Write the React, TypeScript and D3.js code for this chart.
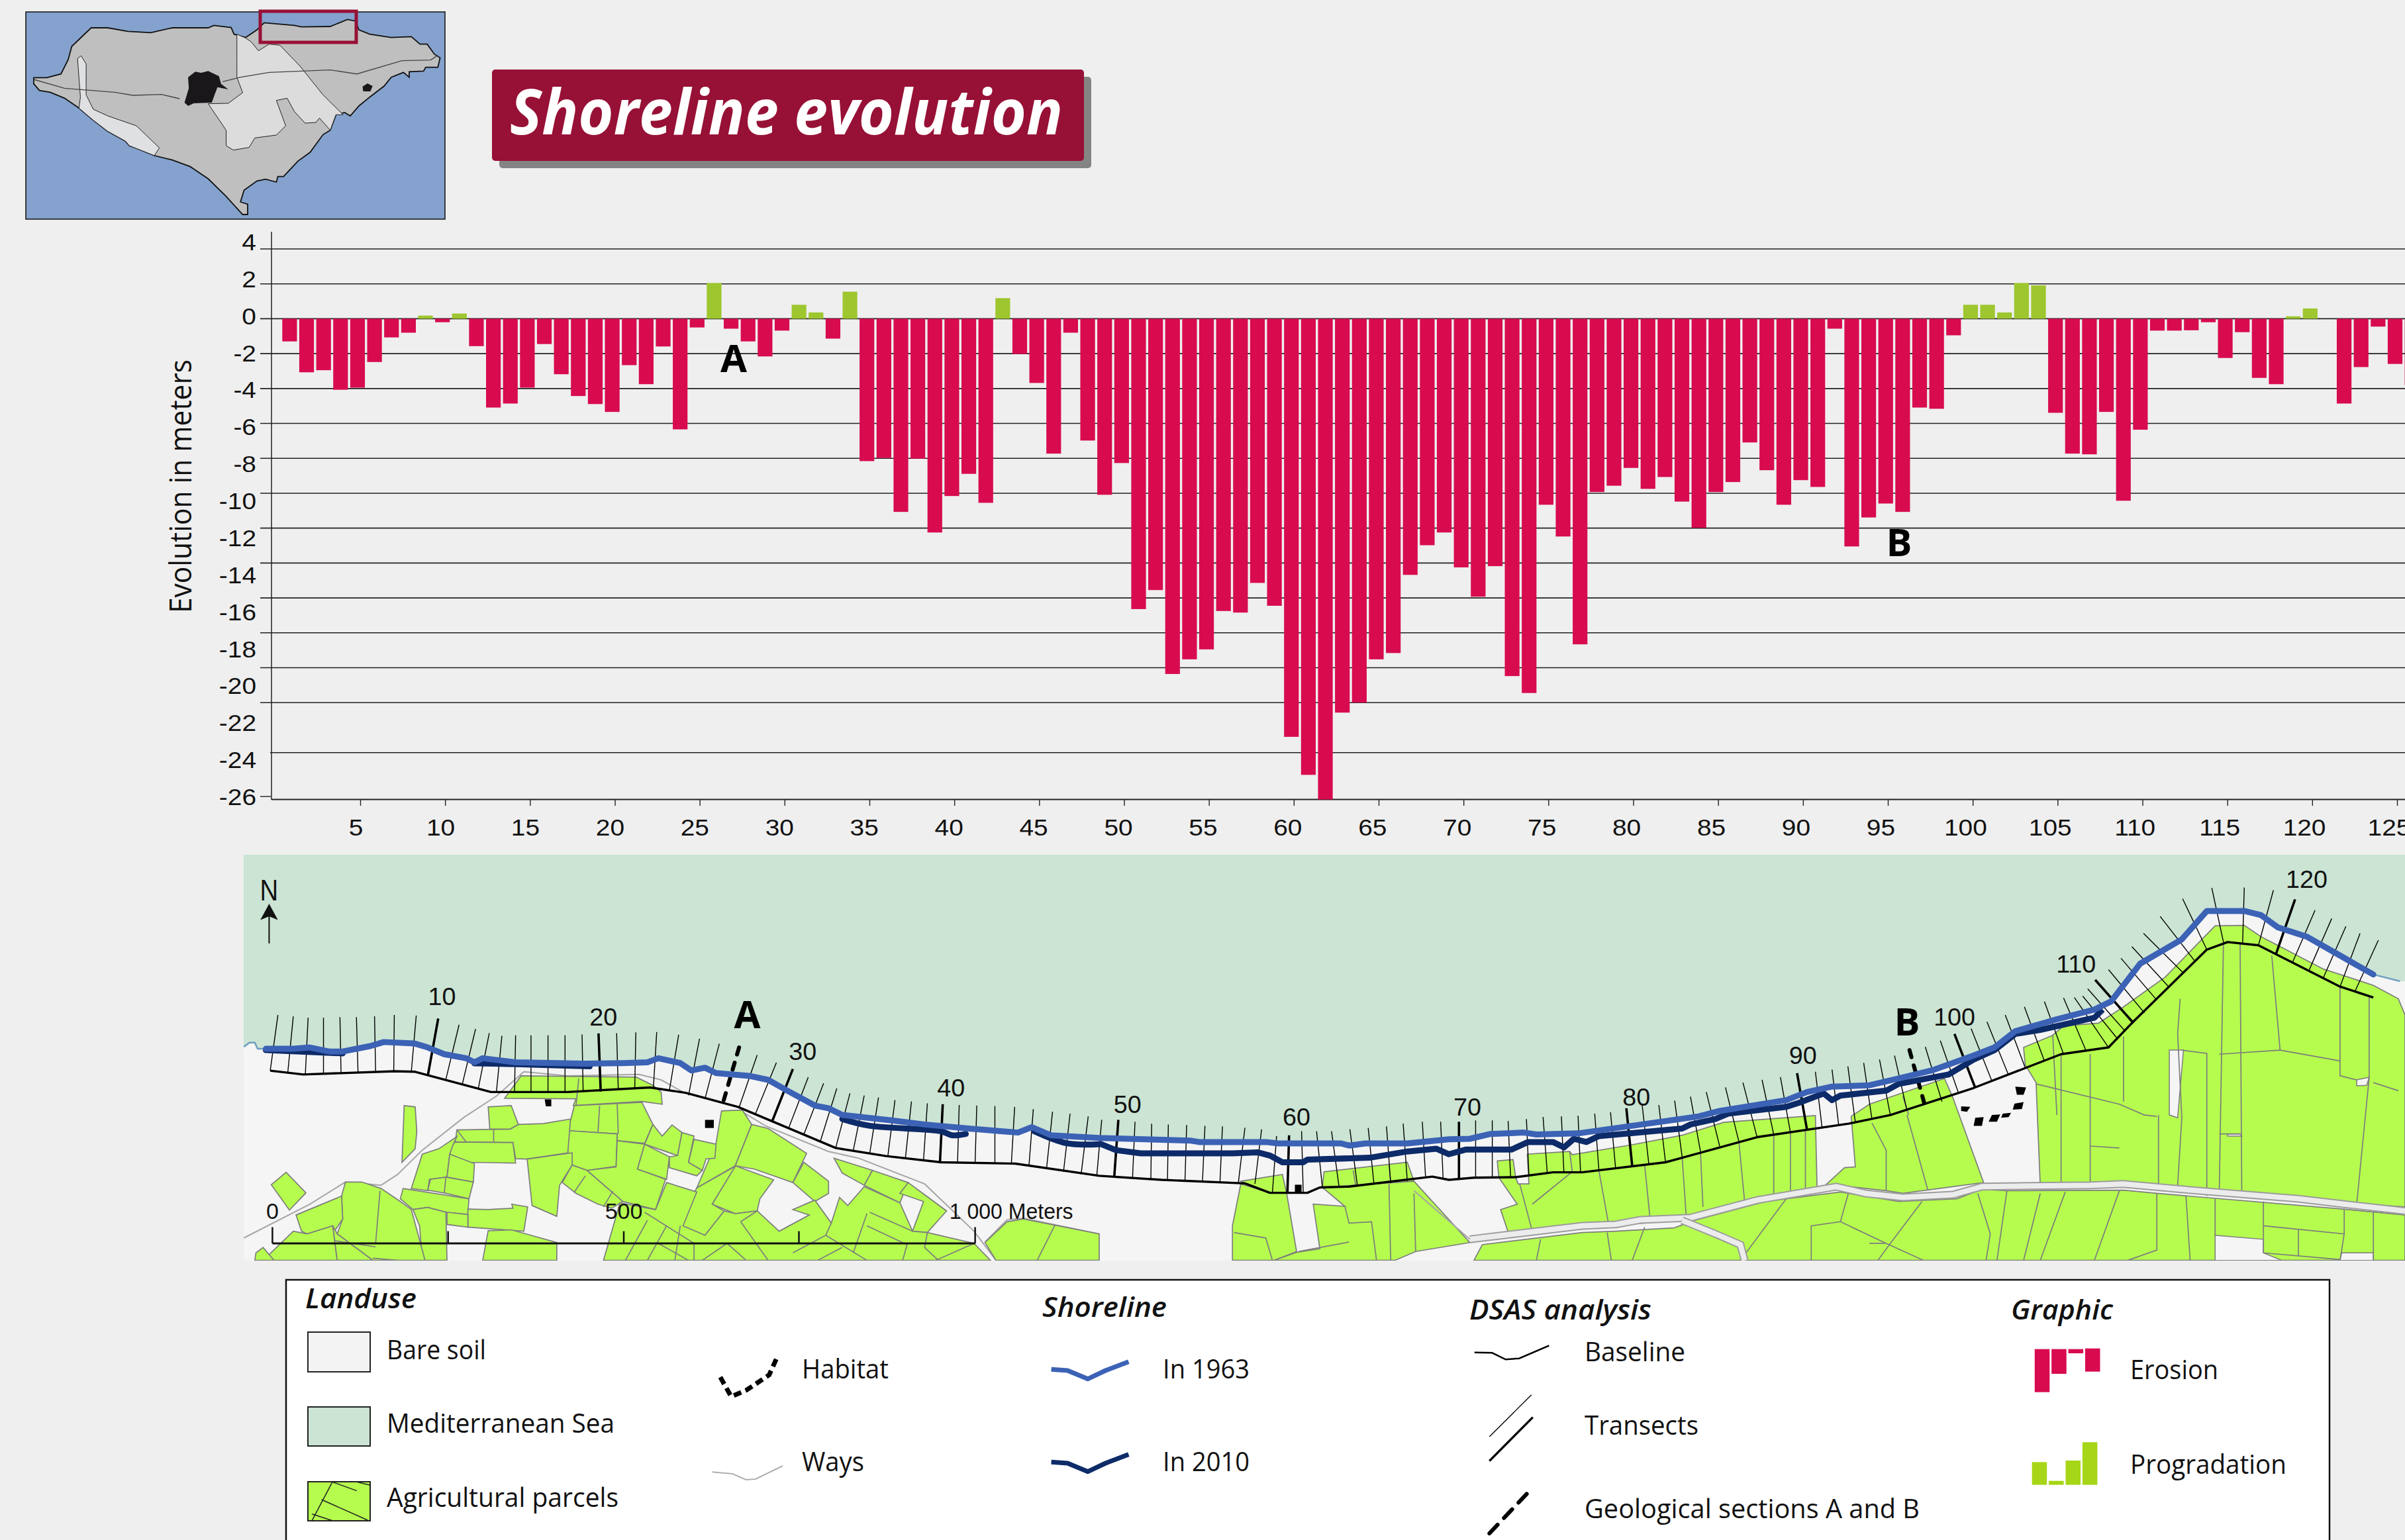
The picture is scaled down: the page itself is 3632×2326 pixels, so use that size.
import React from "react";
import * as d3 from "d3";

type P = [number, number];

// ---------- chart data ----------
const transectValues = [
  -1.3, -3.07, -2.95, -4.07, -3.95, -2.48, -1.07, -0.8, 0.18, -0.2, 0.3, -1.57, -5.09, -4.86, -3.95, -1.45, -3.18, -4.43, -4.89, -5.34,
  -2.66, -3.75, -1.59, -6.34, -0.5, 2.05, -0.57, -1.3, -2.16, -0.68, 0.8, 0.36, -1.14, 1.55, -8.16, -7.98, -11.07, -8.02, -12.25, -10.16,
  -8.89, -10.55, 1.18, -2.02, -3.68, -7.73, -0.8, -6.98, -10.09, -8.27, -16.64, -15.55, -20.36, -19.52, -18.95, -16.75, -16.84, -15.14, -16.45, -23.37,
  -24.95, -26, -22.4, -22, -19.52, -19.16, -14.68, -12.98, -12.25, -14.25, -15.93, -14.18, -20.48, -21.45, -10.66, -12.48, -18.66, -9.93, -9.57, -8.55,
  -9.75, -9.07, -10.48, -11.98, -9.93, -9.36, -7.09, -8.68, -10.66, -9.25, -9.64, -0.57, -13.05, -11.39, -10.59, -11.07, -5.09, -5.16, -0.95, 0.8,
  0.8, 0.36, 2.05, 1.91, -5.39, -7.73, -7.77, -5.34, -10.43, -6.36, -0.68, -0.68, -0.66, -0.2, -2.25, -0.77, -3.39, -3.75, 0.14, 0.59,
  0, -4.86, -2.77, -0.45, -2.59, -3.8,
];
const yTickLabels = [4, 2, 0, -2, -4, -6, -8, -10, -12, -14, -16, -18, -20, -22, -24, -26];
const xTickLabels = d3.range(5, 126, 5);
const gridDomain = [4, -22, -24, -26];

// ---------- legend mini bars ----------
const erosionLegend = [195, 112, 19, 105];
const progradationLegend = [103, 18, 110, 193];

// ---------- inset map (traced) ----------
const islandOutline: P[] = [[47,352],[65,352],[85,335],[95,270],[100,210],[127,126],[150,126],[178,142],[210,148],[240,126],[290,126],[298,115],[322,125],[326,155],[342,170],[358,135],[368,103],[410,115],[420,122],[460,120],[484,88],[495,95],[500,135],[515,155],[545,170],[573,166],[585,200],[595,200],[605,245],[613,262],[610,305],[593,305],[590,322],[570,325],[570,350],[562,328],[545,350],[535,390],[515,440],[500,480],[488,525],[480,510],[468,520],[460,590],[450,610],[432,690],[415,730],[395,800],[387,800],[385,825],[370,812],[358,820],[340,862],[335,915],[345,925],[345,972],[338,972],[315,890],[290,810],[265,755],[240,725],[215,705],[190,672],[180,660],[175,640],[150,595],[130,545],[110,490],[90,445],[70,418],[55,410],[47,380]];
const islandCentre: P[] = [[330,155],[342,172],[350,190],[360,230],[375,200],[390,205],[418,300],[450,430],[478,520],[468,520],[460,590],[445,535],[440,555],[425,558],[410,505],[400,445],[385,455],[398,570],[385,612],[355,625],[347,668],[325,680],[315,660],[315,590],[290,470],[318,468],[338,420],[330,350],[330,260]];
const islandWest: P[] = [[110,490],[130,545],[150,595],[175,640],[180,660],[215,705],[222,670],[190,570],[150,525],[130,495],[120,430],[120,290],[113,253],[108,265],[112,440]];
const islandCity: P[] = [[262,350],[272,325],[280,330],[290,322],[305,345],[308,380],[318,405],[303,395],[300,420],[295,465],[270,468],[262,480],[257,465],[263,400]];
const islandTown: P[] = [[512,378],[519,390],[516,414],[506,414],[505,392]];
const islandRoads: P[][] = [
  [[47,360],[90,400],[160,418],[185,432],[225,428],[250,447]],
  [[310,370],[335,350],[375,328],[460,317],[497,335],[560,275],[600,272],[610,250]],
];

// ---------- coastal map (traced, left crop and right crop) ----------
const tailLeft: P[] = [[10,738],[20,722],[30,722],[35,745],[50,745]];
const shore1963L: P[] = [[50,745],[100,745],[130,740],[165,755],[190,755],[240,735],[265,720],[320,725],[345,740],[375,765],[415,780],[430,795],[445,780],[505,795],[630,800],[700,798],[745,795],[765,780],[805,798],[825,825],[850,815],[870,835],[930,845],[965,860],[1000,900],[1050,955],[1075,965],[1100,990],[1190,1010],[1250,1025],[1330,1040],[1420,1055],[1445,1035],[1480,1065],[1568,1075]];
const shore1963R: P[] = [[0,1075],[110,1085],[120,1090],[200,1090],[215,1095],[290,1095],[300,1103],[320,1095],[370,1095],[420,1080],[445,1078],[470,1060],[510,1055],[525,1062],[575,1058],[640,1030],[720,995],[745,975],[825,935],[850,905],[880,885],[925,880],[960,855],[1000,825],[1050,770],[1075,740],[1100,680],[1145,640],[1195,600],[1215,570],[1250,430],[1300,340],[1330,235],[1375,235],[1395,250],[1415,295],[1450,330],[1490,400],[1530,470]];
const tailRight: P[] = [[1530,470],[1562,495]];
const shore2010L: P[][] = [
  [[50,750],[190,762]],
  [[430,799],[505,802],[640,810]],
  [[1100,1005],[1150,1030],[1280,1050],[1300,1065],[1325,1060]],
  [[1450,1050],[1510,1095],[1568,1098]],
];
const shore2010R: P[] = [[0,1095],[20,1120],[50,1132],[160,1132],[190,1128],[205,1140],[220,1165],[245,1165],[250,1155],[325,1148],[370,1125],[405,1115],[420,1135],[440,1118],[495,1118],[515,1090],[545,1090],[558,1110],[570,1078],[585,1090],[600,1068],[700,1040],[710,1025],[740,1005],[755,985],[825,960],[840,945],[870,910],[880,935],[890,918],[945,900],[960,875],[1020,840],[1050,785],[1075,750],[1100,690],[1130,675],[1195,630],[1205,600]];
const baselineL: P[] = [[58,826],[118,840],[285,828],[322,830],[460,905],[600,905],[750,888],[815,908],[910,960],[1088,1112],[1180,1142],[1280,1165],[1415,1170],[1568,1215]];
const baselineR: P[] = [[0,1215],[75,1230],[175,1243],[205,1278],[250,1278],[265,1258],[300,1255],[400,1218],[420,1230],[450,1222],[500,1220],[545,1202],[580,1202],[680,1165],[790,1072],[900,1022],[950,990],[1050,890],[1155,765],[1212,740],[1240,650],[1330,378],[1355,350],[1392,362],[1490,515],[1530,555]];

const transectTopL: P[] = [[72,620],[100,625],[127,630],[155,630],[185,628],[215,628],[248,625],[284,620],[324,622],[364,633],[402,656],[432,672],[457,687],[480,697],[505,695],[533,695],[564,695],[595,695],[626,692],[656,688],[689,687],[724,684],[762,683],[802,693],[840,708],[876,726],[912,740],[945,768],[980,796],[1010,820],[1038,850],[1066,873],[1090,892],[1114,910],[1140,918],[1166,925],[1196,935],[1226,940],[1255,947],[1283,950],[1313,953],[1345,955],[1378,957],[1414,960],[1448,968],[1483,978],[1515,985],[1548,995]];
const transectFootL: P[] = [[58,826],[90,833],[122,838],[155,838],[187,836],[218,835],[250,833],[283,830],[315,830],[345,845],[378,858],[408,875],[437,892],[470,905],[503,905],[533,905],[564,905],[595,905],[628,904],[660,903],[692,897],[722,893],[756,888],[785,900],[820,917],[850,930],[882,950],[912,962],[942,985],[972,1015],[1002,1040],[1030,1062],[1060,1088],[1088,1112],[1120,1122],[1150,1132],[1183,1142],[1215,1150],[1248,1158],[1278,1165],[1310,1165],[1342,1165],[1378,1167],[1408,1170],[1440,1180],[1472,1190],[1503,1200],[1535,1210]];
const transectTopR: P[] = [[3,1008],[23,1008],[43,1015],[63,1022],[83,1025],[105,1027],[127,1030],[148,1032],[175,1037],[195,1043],[213,1068],[228,1065],[243,1050],[261,1050],[279,1050],[301,1043],[323,1038],[345,1032],[365,1022],[388,1015],[410,1015],[432,1015],[452,1010],[472,1010],[491,1012],[513,1005],[533,997],[555,995],[575,993],[595,985],[614,980],[633,965],[652,953],[672,953],[691,937],[710,922],[729,905],[752,888],[773,870],[796,860],[818,850],[838,835],[860,830],[880,822],[899,810],[918,797],[937,785],[955,770],[973,750],[992,738],[1010,715],[1027,690],[1047,670],[1066,645],[1088,620],[1111,590],[1135,570],[1158,557],[1171,555],[1181,550],[1187,523],[1196,490],[1212,452],[1227,410],[1240,367],[1254,318],[1274,255],[1301,190],[1336,150],[1375,148],[1410,158],[1436,192],[1460,232],[1480,263],[1497,292],[1514,318],[1536,343]];
const transectFootR: P[] = [[-3,1218],[18,1222],[40,1226],[62,1230],[82,1233],[103,1236],[124,1238],[145,1240],[167,1243],[187,1245],[208,1277],[226,1278],[245,1278],[268,1258],[288,1256],[310,1250],[330,1247],[350,1242],[370,1235],[392,1225],[413,1228],[432,1230],[452,1222],[472,1222],[494,1220],[516,1212],[538,1204],[558,1202],[578,1202],[600,1193],[620,1185],[640,1178],[660,1172],[680,1164],[700,1145],[722,1125],[745,1105],[768,1087],[790,1072],[810,1063],[830,1054],[850,1046],[868,1036],[888,1028],[908,1018],[928,1007],[950,990],[970,973],[992,960],[1012,940],[1032,910],[1052,890],[1072,865],[1092,843],[1112,815],[1135,790],[1158,765],[1185,752],[1212,740],[1222,705],[1232,680],[1242,650],[1255,612],[1270,565],[1285,518],[1302,465],[1315,418],[1330,378],[1350,350],[1373,355],[1392,362],[1413,395],[1433,425],[1453,453],[1470,482],[1490,515],[1508,532]];

const parcelsL: P[][] = [
  [[515,845],[725,850],[755,880],[770,905],[772,950],[735,940],[610,955],[615,930],[485,928]],
  [[612,955],[735,943],[755,1025],[740,1095],[690,1085],[690,1060],[600,1048]],
  [[600,1048],[690,1060],[688,1180],[635,1195],[600,1170]],
  [[690,1085],[740,1098],[727,1190],[778,1228],[760,1340],[700,1310],[635,1195],[688,1182]],
  [[398,1045],[495,1042],[510,1025],[555,1022],[605,1005],[600,1130],[525,1153],[505,1152],[500,1092],[395,1090]],
  [[455,960],[497,955],[510,1025],[495,1042],[458,1042]],
  [[395,1090],[500,1092],[505,1168],[420,1165],[385,1135],[388,1105]],
  [[526,1153],[608,1130],[608,1175],[585,1250],[580,1365],[535,1325]],
  [[398,1070],[390,1105],[385,1135],[380,1220],[348,1228],[345,1270],[315,1262],[335,1135],[365,1115]],
  [[385,1135],[430,1170],[428,1238],[380,1220]],
  [[350,1228],[378,1220],[428,1238],[420,1300],[378,1280],[345,1268]],
  [[300,1262],[420,1300],[418,1358],[378,1350],[345,1332],[318,1340],[295,1300]],
  [[418,1338],[455,1340],[500,1335],[498,1320],[527,1330],[520,1420],[418,1405]],
  [[380,1350],[418,1358],[418,1405],[380,1395]],
  [[318,1340],[345,1332],[378,1350],[380,1528],[335,1528],[330,1400]],
  [[195,1238],[225,1238],[260,1262],[295,1310],[315,1340],[340,1528],[245,1528],[180,1430],[190,1375],[188,1290]],
  [[188,1290],[190,1375],[175,1420],[125,1430],[115,1420],[105,1360]],
  [[125,1430],[172,1400],[180,1528],[45,1528],[100,1420]],
  [[172,1400],[180,1430],[245,1528],[180,1528]],
  [[455,1418],[497,1415],[580,1462],[580,1528],[445,1528]],
  [[32,1500],[45,1480],[65,1528],[30,1528]],
  [[302,955],[322,960],[325,1050],[322,1115],[298,1165]],
  [[60,1248],[87,1202],[123,1278],[93,1342]],
  [[880,975],[918,972],[935,1025],[905,1178],[835,1260],[870,1095]],
  [[935,1025],[965,1040],[1035,1132],[1010,1240],[940,1190],[905,1178]],
  [[905,1178],[975,1230],[950,1300],[945,1345],[905,1355],[863,1320]],
  [[1010,1240],[1030,1165],[1075,1235],[1075,1280],[1050,1310]],
  [[835,1260],[905,1180],[863,1320],[885,1345],[850,1435],[805,1400],[825,1295]],
  [[755,1025],[772,1068],[790,1027],[808,1055],[800,1140],[740,1098]],
  [[808,1055],[830,1068],[820,1165],[845,1195],[835,1215],[785,1185],[785,1145],[800,1140]],
  [[830,1080],[870,1098],[868,1150],[852,1152],[845,1195],[820,1165]],
  [[740,1098],[785,1145],[780,1228],[727,1190]],
  [[590,1240],[608,1175],[635,1195],[700,1310],[680,1335],[655,1320],[615,1280]],
  [[1085,1150],[1155,1195],[1140,1250],[1100,1205]],
  [[1155,1195],[1220,1240],[1205,1315],[1140,1250]],
  [[1220,1240],[1250,1285],[1290,1345],[1255,1425],[1228,1420],[1248,1310],[1205,1280]],
  [[695,1315],[760,1340],[780,1240],[835,1275],[810,1400],[850,1435],[885,1345],[905,1355],[945,1345],[985,1420],[1040,1360],[1010,1340],[1050,1305],[1080,1390],[1095,1295],[1110,1325],[1140,1255],[1205,1315],[1228,1420],[1255,1425],[1340,1465],[1370,1528],[665,1528]],
  [[1360,1462],[1400,1385],[1430,1375],[1568,1430],[1568,1528],[1380,1528]],
];
const dividersL: P[][] = [
  [[620,855],[615,955]],[[658,955],[655,1055]],[[690,950],[692,1060]],[[465,1043],[465,1090]],[[398,1045],[415,1090]],
  [[258,1270],[250,1465]],[[175,1455],[250,1478]],[[245,1520],[290,1528]],[[378,1220],[375,1280]],
  [[740,1350],[830,1465],[830,1528]],[[765,1465],[820,1528]],[[745,1380],[705,1528]],[[780,1400],[745,1528]],[[805,1400],[795,1528]],
  [[890,1465],[845,1528]],[[890,1465],[925,1528]],[[1010,1500],[1070,1435],[1080,1390]],[[1070,1435],[1145,1528]],[[1100,1480],[1055,1528]],
  [[1145,1355],[1120,1500]],[[1145,1400],[1218,1470],[1210,1528]],[[1150,1350],[1228,1420]],[[915,1385],[945,1345]],[[915,1385],[965,1528]],
  [[1255,1425],[1250,1480],[1275,1528]],[[1340,1465],[1270,1528]],[[1488,1395],[1455,1528]],[[632,1215],[612,1275]],[[682,1272],[665,1330]],
];
const parcelsR: P[][] = [
  [[170,1235],[220,1210],[225,1278],[205,1278],[180,1248]],
  [[170,1245],[205,1278],[225,1278],[237,1495],[210,1528],[160,1528],[160,1400]],
  [[270,1200],[370,1165],[378,1235],[300,1255],[268,1258]],
  [[268,1258],[378,1235],[445,1462],[380,1495],[355,1528],[210,1528],[237,1498],[265,1485],[257,1320],[295,1328]],
  [[478,1160],[497,1155],[500,1220],[480,1222]],
  [[480,1222],[500,1220],[503,1245],[516,1245],[514,1135],[565,1125],[568,1137],[640,1100],[700,1065],[750,1017],[860,992],[862,1262],[790,1310],[705,1375],[620,1400],[580,1400],[492,1432],[482,1340],[502,1320]],
  [[903,995],[925,950],[1015,855],[1025,925],[1062,1240],[965,1280],[945,1270],[885,1250],[872,1250],[895,1185],[908,1182]],
  [[1112,805],[1110,740],[1145,695],[1158,660],[1200,650],[1230,590],[1280,480],[1340,290],[1375,288],[1395,330],[1420,370],[1470,450],[1530,510],[1560,560],[1568,620],[1568,1330],[1495,1315],[1340,1280],[1230,1245],[1130,1250],[1125,870]],
  [[450,1528],[460,1470],[580,1425],[620,1420],[690,1408],[715,1380],[800,1310],[890,1275],[960,1310],[1030,1300],[1060,1265],[1090,1270],[1230,1268],[1270,1280],[1500,1340],[1568,1360],[1568,1528]],
];
const holesR: P[][] = [
  [[1285,750],[1302,750],[1295,1000],[1285,990]],
  [[1510,860],[1525,850],[1522,880],[1510,882]],
  [[1355,1060],[1370,1060],[1372,1068],[1355,1068]],
  [[1340,1435],[1398,1450],[1398,1500],[1420,1528],[1340,1528]],
  [[1490,1528],[1530,1528],[1530,1500],[1492,1500]],
];
const dividersR: P[][] = [
  [[162,1425],[200,1445],[208,1528]],[[295,1328],[300,1390],[327,1385],[333,1528]],[[348,1245],[350,1528]],[[300,1460],[240,1495]],[[378,1280],[380,1495]],
  [[305,1195],[308,1250]],[[348,1175],[350,1240]],[[505,1245],[520,1420]],
  [[565,1125],[568,1200],[520,1320]],[[600,1195],[612,1400]],[[655,1175],[662,1390]],[[700,1145],[705,1370]],[[722,1125],[725,1330]],[[768,1085],[775,1310]],[[810,1065],[810,1290]],[[830,1050],[830,1275]],[[848,1045],[848,1265]],
  [[965,920],[972,990]],[[928,1020],[945,1120],[945,1270]],[[970,990],[995,1268]],
  [[1145,695],[1150,990]],[[1155,765],[1155,1240]],[[1125,875],[1225,950],[1255,990],[1270,995]],[[1190,765],[1190,1240]],[[1230,700],[1230,940]],[[1272,990],[1272,1245]],[[1298,560],[1295,690],[1300,1000],[1295,1250]],
  [[1350,350],[1345,1270]],[[1370,350],[1372,1280]],[[1408,400],[1418,750]],[[1345,765],[1418,750],[1490,790]],[[1490,515],[1490,845],[1510,860]],[[1525,550],[1525,850],[1510,1320]],[[1530,870],[1560,900]],[[1300,750],[1330,762],[1330,1290]],[[1345,1060],[1370,1060]],[[1190,1105],[1225,1112]],
  [[610,1425],[615,1528]],[[530,1450],[525,1528]],[[655,1405],[640,1528]],[[825,1300],[770,1528]],[[900,1275],[890,1385],[855,1400],[855,1528]],[[890,1385],[945,1465],[925,1465]],[[945,1465],[990,1528]],[[988,1310],[950,1465],[935,1528]],[[1055,1280],[1070,1430],[1065,1528]],[[1090,1270],[1078,1528]],[[1130,1280],[1110,1528]],[[1160,1275],[1130,1528]],[[1225,1270],[1195,1528]],[[1270,1280],[1270,1490],[1235,1528]],[[1305,1290],[1310,1528]],[[1340,1300],[1340,1435]],[[1398,1310],[1398,1400],[1495,1430],[1490,1528]],[[1398,1400],[1398,1500],[1490,1525]],[[1440,1415],[1440,1510]],[[1495,1340],[1495,1430]],[[1530,1350],[1530,1528]],
];
const mainRoadR: P[] = [[445,1450],[580,1400],[620,1395],[650,1378],[710,1370],[790,1305],[885,1255],[920,1280],[965,1295],[1025,1285],[1060,1255],[1190,1250],[1230,1245],[1300,1265],[1440,1300],[1495,1320],[1568,1345]];
const branchRoadR: P[] = [[700,1380],[740,1430],[770,1470],[775,1528]];
const sideRoadR: P[] = [[378,1270],[445,1450]];
const thinRoadsL: P[][] = [
  [[10,1445],[130,1320],[195,1238],[260,1250],[290,1210],[335,1120],[410,1000],[470,920],[520,830],[600,845],[730,840],[770,860],[810,905]],
  [[915,975],[960,1030],[1075,1125],[1130,1150],[1250,1245],[1340,1420],[1380,1528]],
  [[1360,1460],[1400,1378],[1430,1372],[1568,1430]],
];
const habitatL: P[][] = [[[558,932],[570,932],[570,958],[560,958]],[[850,1008],[866,1008],[866,1038],[850,1038]]];
const habitatR: P[][] = [[[235,1248],[243,1248],[243,1278],[235,1278]],[[1100,885],[1113,888],[1110,915],[1102,915]],[[1035,958],[1046,960],[1042,978],[1035,975]],[[1052,1000],[1062,998],[1060,1030],[1050,1030]],[[1072,990],[1082,988],[1078,1015],[1068,1015]],[[1085,985],[1095,982],[1092,998],[1083,1000]],[[1099,948],[1110,942],[1108,968],[1097,970]]];

const mapLabelsL: [string, number, number][] = [["10",371,583],["20",665,658],["30",1028,786],["40",1298,920]];
const mapLabelsR: [string, number, number][] = [["50",34,982],["60",237,1030],["70",442,993],["80",645,955],["90",845,800],["100",1027,660],["110",1173,462],["120",1450,150]];
const scaleStops = [62, 382, 702, 1021, 1342];

// legend strokes (legend crop coordinates)
const legendHabitat: P[] = [[326,480],[334,568],[345,540],[362,470],[368,388]];
const legendWays: P[] = [[320,910],[335,918],[345,945],[352,942],[372,882]];
const legendShore: P[] = [[570,445],[582,450],[597,488],[610,450],[627,410]];
const legendBaseline: P[] = [[882,368],[895,370],[905,400],[915,395],[937,337]];
const legendTexts: [string, number, number, number][] = [
  ["Bare soil",584,2053,150],["Mediterranean Sea",584,2164,344],["Agricultural parcels",584,2276,350],
  ["Habitat",1211,2082,131],["Ways",1211,2222,94],["In 1963",1756,2082,131],["In 2010",1756,2222,131],
  ["Baseline",2393,2056,152],["Transects",2393,2167,172],["Geological sections A and B",2393,2293,506],
  ["Erosion",3217,2083,133],["Progradation",3217,2226,236],
];
const legendHeads: [string, number, number, number][] = [
  ["Landuse",461,1976,168],["Shoreline",1574,1989,188],["DSAS analysis",2219,1993,275],["Graphic",3037,1993,154],
];

// ---------- colours ----------
const RED = "#d80b4f";
const GREEN = "#9ec62e";
const BG = "#efefef";
const CRIMSON = "#971035";
const PARCEL = "#b5fc4e";
const PARCEL_LINE = "#7d7d7d";
const SEA = "#cbe4d4";
const SOIL = "#f5f5f5";

const SANS = "'Liberation Sans', Arial, sans-serif";
const OPEN = "'Open Sans', sans-serif";

// ---------- scales ----------
const xBar = d3.scaleLinear().domain([1, 125]).range([437.4, 3617]);
const xTick = d3.scaleLinear().domain([5, 125]).range([544.5, 3620.5]);
const xLabel = d3.scaleLinear().domain([5, 125]).range([537.6, 3608]);
const yGrid = d3.scaleLinear().domain(gridDomain).range([376, 1061.2, 1136.7, 1207.5]);
const yLabel = d3.scaleLinear().domain([4, -26]).range([365, 1203]);

const insetX = d3.scaleLinear().domain([0, 1700]).range([0, 1700 / 0.9224]);
const insetY = d3.scaleLinear().domain([0, 1020]).range([0, 340]);
const lx = d3.scaleLinear().domain([0, 1568]).range([360, 1660]);
const ly = d3.scaleLinear().domain([0, 1568]).range([1280, 1920]);
const rx = d3.scaleLinear().domain([0, 1568]).range([1660, 3632]);
const gx = d3.scaleLinear().domain([0, 1568]).range([420, 3632]);
const gy = d3.scaleLinear().domain([0, 1218]).range([1920, 2326]);

const toL = (p: P): P => [lx(p[0]), ly(p[1])];
const toR = (p: P): P => [rx(p[0]), ly(p[1])];
const toI = (p: P): P => [insetX(p[0]), insetY(p[1])];
const toG = (p: P): P => [gx(p[0]), gy(p[1])];
const line = d3.line<P>();
const smooth = d3.line<P>().curve(d3.curveCatmullRom.alpha(0.5));

const seaShore: P[] = [...tailLeft.map(toL), ...shore1963L.map(toL), ...shore1963R.map(toR), ...tailRight.map(toR)];
const seaPolygon: P[] = [[368, 1291], [3632, 1291], [3632, ly(495)], ...seaShore.slice().reverse(), [368, ly(738)]];
const baselinePts: P[] = [...baselineL.map(toL), ...baselineR.map(toR)];

const transects = [
  ...transectTopL.map((t, i) => [toL(t), toL(transectFootL[i])]),
  ...transectTopR.map((t, i) => [toR(t), toR(transectFootR[i])]),
] as [P, P][];

function Stretched({ x, y, sx = 1.08, size, anchor = "middle", fill = "#111", weight = 400, family = SANS, children }: any) {
  return (
    <text transform={`translate(${x},${y}) scale(${sx},1)`} fontFamily={family} fontSize={size} fontWeight={weight} textAnchor={anchor} fill={fill}>
      {children}
    </text>
  );
}

export default function App() {
  return (
    <svg width={3632} height={2326} viewBox="0 0 3632 2326" style={{ position: "absolute", left: 0, top: 0, display: "block", background: BG }}>
      <defs>
        <clipPath id="mapClip"><rect x={368} y={1291} width={3264} height={613} /></clipPath>
      </defs>
      <rect width={3632} height={2326} fill={BG} />

      {/* inset */}
      <rect x={39} y={18} width={633} height={313} fill="#84a2cd" stroke="#111" strokeWidth={1.5} />
      <path d={line(islandOutline.map(toI)) + "Z"} fill="#bfbfbf" stroke="#111" strokeWidth={1.8} />
      <path d={line(islandCentre.map(toI)) + "Z"} fill="#dcdcdc" stroke="#222" strokeWidth={1} />
      <path d={line(islandWest.map(toI)) + "Z"} fill="#dfe0e2" stroke="#222" strokeWidth={1} />
      {islandRoads.map((r, i) => <path key={i} d={line(r.map(toI))!} fill="none" stroke="#444" strokeWidth={1.4} />)}
      <path d={line(islandCity.map(toI)) + "Z"} fill="#19171a" />
      <path d={line(islandTown.map(toI)) + "Z"} fill="#19171a" />
      <rect x={393} y={17} width={145} height={47} fill="none" stroke={CRIMSON} strokeWidth={5} />

      {/* title */}
      <rect x={754} y={116} width={894} height={138} rx={5} fill="#848484" />
      <rect x={743} y={105} width={894} height={138} rx={5} fill={CRIMSON} />
      <text x={770} y={203} fontFamily={OPEN} fontSize={95} fontWeight={700} fontStyle="italic" fill="#fff" textLength={835} lengthAdjust="spacingAndGlyphs">Shoreline evolution</text>

      {/* chart grid */}
      {gridDomain.length > 0 && yTickLabels.filter((v) => v >= -24).map((v) => (
        <line key={v} x1={v === -24 ? 408 : 393} x2={3632} y1={yGrid(v)} y2={yGrid(v)} stroke="#222" strokeWidth={1.6} />
      ))}
      <line x1={393} x2={409} y1={1203} y2={1203} stroke="#222" strokeWidth={1.4} />
      <line x1={410} x2={410} y1={350} y2={1208} stroke="#222" strokeWidth={1.5} />
      <line x1={410} x2={3632} y1={1207.5} y2={1207.5} stroke="#222" strokeWidth={1.8} />
      {xTickLabels.map((t) => (
        <line key={t} x1={xTick(t)} x2={xTick(t)} y1={1207.5} y2={1217} stroke="#222" strokeWidth={1.4} />
      ))}

      {/* bars */}
      {transectValues.map((v, i) => {
        if (v === 0) return null;
        const x = xBar(i + 1);
        return (
          <rect key={i} x={x - 11.1} width={22.2} y={Math.min(yGrid(v), yGrid(0))} height={Math.abs(yGrid(v) - yGrid(0))} fill={v > 0 ? GREEN : RED} />
        );
      })}

      {/* axis labels */}
      {yTickLabels.map((v) => (
        <Stretched key={v} x={387} y={yLabel(v) + 13} size={36} anchor="end">{v}</Stretched>
      ))}
      {xTickLabels.map((t) => (
        <Stretched key={t} x={xLabel(t)} y={1262} size={36}>{t}</Stretched>
      ))}
      <text transform="translate(289,926) rotate(-90)" fontFamily={OPEN} fontSize={46} fill="#111" textLength={383} lengthAdjust="spacingAndGlyphs">Evolution in meters</text>
      <text x={1108} y={562} fontFamily={OPEN} fontSize={58} fontWeight={700} fill="#000" textAnchor="middle">A</text>
      <text x={2868} y={840} fontFamily={OPEN} fontSize={58} fontWeight={700} fill="#000" textAnchor="middle">B</text>

      {/* coastal map */}
      <g clipPath="url(#mapClip)">
        <rect x={368} y={1291} width={3264} height={613} fill={SOIL} />
        <path d={line(seaPolygon) + "Z"} fill={SEA} />
        {thinRoadsL.map((r, i) => <path key={i} d={line(r.map(toL))!} fill="none" stroke="#a6a6a6" strokeWidth={2} />)}
        {parcelsL.map((p, i) => <path key={i} d={line(p.map(toL)) + "Z"} fill={PARCEL} stroke={PARCEL_LINE} strokeWidth={1.7} />)}
        {dividersL.map((p, i) => <path key={i} d={line(p.map(toL))!} fill="none" stroke={PARCEL_LINE} strokeWidth={1.7} />)}
        {parcelsR.map((p, i) => <path key={i} d={line(p.map(toR)) + "Z"} fill={PARCEL} stroke={PARCEL_LINE} strokeWidth={1.7} />)}
        {holesR.map((p, i) => <path key={i} d={line(p.map(toR)) + "Z"} fill={SOIL} stroke={PARCEL_LINE} strokeWidth={1.5} />)}
        {dividersR.map((p, i) => <path key={i} d={line(p.map(toR))!} fill="none" stroke={PARCEL_LINE} strokeWidth={1.7} />)}
        {[mainRoadR, branchRoadR].map((r, i) => (
          <g key={i}>
            <path d={line(r.map(toR))!} fill="none" stroke="#9c9c9c" strokeWidth={12} />
            <path d={line(r.map(toR))!} fill="none" stroke="#ececec" strokeWidth={8} />
          </g>
        ))}
        <path d={line(sideRoadR.map(toR))!} fill="none" stroke="#a6a6a6" strokeWidth={2} />
        {habitatL.map((p, i) => <path key={i} d={line(p.map(toL)) + "Z"} fill="#000" />)}
        {habitatR.map((p, i) => <path key={i} d={line(p.map(toR)) + "Z"} fill="#000" />)}

        {/* transects */}
        {transects.map(([a, b], i) => {
          const n = i + 1;
          if (n === 27 || n === 97) {
            return <line key={i} x1={a[0]} y1={a[1]} x2={b[0]} y2={b[1]} stroke="#000" strokeWidth={6} strokeLinecap="round" strokeDasharray="11 13" />;
          }
          const major = n % 10 === 0;
          return <line key={i} x1={a[0]} y1={a[1]} x2={b[0]} y2={b[1]} stroke="#000" strokeWidth={major ? 3.6 : 1.4} />;
        })}

        {/* shorelines */}
        {shore2010L.map((s, i) => <path key={i} d={smooth(s.map(toL))!} fill="none" stroke="#0d2b68" strokeWidth={9} strokeLinecap="round" />)}
        <path d={line(shore2010R.map(toR))!} fill="none" stroke="#0d2b68" strokeWidth={9} strokeLinejoin="round" />
        <path d={line(tailLeft.map(toL))!} fill="none" stroke="#6f9fc0" strokeWidth={2.5} />
        <path d={line(tailRight.map(toR))!} fill="none" stroke="#6f9fc0" strokeWidth={2.5} />
        <path d={line([...shore1963L.map(toL), ...shore1963R.map(toR)])!} fill="none" stroke="#3b62b5" strokeWidth={9} strokeLinejoin="round" strokeLinecap="round" />
        <path d={line(baselinePts)!} fill="none" stroke="#000" strokeWidth={3.4} strokeLinejoin="round" />

        {/* map labels */}
        {mapLabelsL.map(([t, x, y]) => <Stretched key={t} x={lx(x)} y={ly(y)} size={37} sx={1.02}>{t}</Stretched>)}
        {mapLabelsR.map(([t, x, y]) => <Stretched key={t} x={rx(x)} y={ly(y)} size={37} sx={1.02}>{t}</Stretched>)}
        <text x={lx(927)} y={ly(670)} fontFamily={OPEN} fontSize={58} fontWeight={700} fill="#000" textAnchor="middle">A</text>
        <text x={rx(970)} y={ly(695)} fontFamily={OPEN} fontSize={58} fontWeight={700} fill="#000" textAnchor="middle">B</text>

        {/* north arrow */}
        <Stretched x={lx(56)} y={ly(197)} size={45} sx={0.85}>N</Stretched>
        <line x1={lx(56)} x2={lx(56)} y1={ly(355)} y2={ly(250)} stroke="#111" strokeWidth={2} />
        <path d={line(([[56, 208], [72, 268], [56, 255], [40, 268]] as P[]).map(toL)) + "Z"} fill="#111" />

        {/* scale bar */}
        <line x1={lx(62)} x2={lx(1342)} y1={ly(1465)} y2={ly(1465)} stroke="#111" strokeWidth={3} />
        {scaleStops.map((s, i) => (
          <line key={s} x1={lx(s)} x2={lx(s)} y1={ly(i === 0 || i === 4 ? 1405 : 1420)} y2={ly(1465)} stroke="#111" strokeWidth={2.5} />
        ))}
        <Stretched x={lx(62)} y={ly(1375)} size={34} sx={1}>0</Stretched>
        <Stretched x={lx(702)} y={ly(1375)} size={34} sx={1}>500</Stretched>
        <text x={lx(1295)} y={ly(1375)} fontFamily={SANS} fontSize={34} fill="#111" textLength={187} lengthAdjust="spacingAndGlyphs">1 000 Meters</text>
      </g>

      {/* legend */}
      <rect x={432} y={1933} width={3086} height={420} fill="#fff" stroke="#111" strokeWidth={2.5} />
      <rect x={465} y={2012} width={94} height={60} fill="#f3f3f3" stroke="#222" strokeWidth={2} />
      <rect x={465} y={2125} width={94} height={59} fill={SEA} stroke="#222" strokeWidth={2} />
      <rect x={465} y={2238} width={94} height={59} fill={PARCEL} stroke="#222" strokeWidth={2} />
      {([[[40,955],[25,1130]],[[40,955],[58,995]],[[58,955],[68,970]],[[32,1035],[66,1128]],[[25,1100],[40,1130]]] as P[][]).map((l, i) => (
        <path key={i} d={line(l.map(toG))!} fill="none" stroke="#222" strokeWidth={1.5} />
      ))}
      <path d={line(legendHabitat.map(toG))!} fill="none" stroke="#000" strokeWidth={7} strokeDasharray="12 7" />
      <path d={line(legendWays.map(toG))!} fill="none" stroke="#b0b0b0" strokeWidth={2} />
      <path d={line(legendShore.map(toG))!} fill="none" stroke="#3b62b5" strokeWidth={7} strokeLinejoin="round" />
      <path d={line(legendShore.map((p) => [p[0], p[1] + 420] as P).map(toG))!} fill="none" stroke="#0d2b68" strokeWidth={7} strokeLinejoin="round" />
      <path d={line(legendBaseline.map(toG))!} fill="none" stroke="#000" strokeWidth={2.5} />
      <line x1={gx(893)} y1={gy(750)} x2={gx(924)} y2={gy(560)} stroke="#000" strokeWidth={1.4} />
      <line x1={gx(893)} y1={gy(860)} x2={gx(925)} y2={gy(662)} stroke="#000" strokeWidth={3.4} />
      <line x1={gx(893)} y1={gy(1188)} x2={gx(925)} y2={gy(980)} stroke="#000" strokeWidth={6} strokeDasharray="18 14" strokeLinecap="round" />
      {erosionLegend.map((h, i) => (
        <rect key={i} x={gx(1295 + i * 12.4)} y={gy(i === 3 ? 350 : 353)} width={gx(1306) - gx(1295)} height={gy(h) - gy(0)} fill={RED} />
      ))}
      {progradationLegend.map((h, i) => (
        <rect key={i} x={gx(1293 + i * 12.4)} y={gy(968 - h)} width={gx(1304) - gx(1293)} height={gy(h) - gy(0)} fill="#a6d617" />
      ))}
      {legendHeads.map(([t, x, y, w]) => (
        <text key={t} x={x} y={y} fontFamily={OPEN} fontSize={42} fontWeight={600} fontStyle="italic" fill="#111" textLength={w} lengthAdjust="spacingAndGlyphs">{t}</text>
      ))}
      {legendTexts.map(([t, x, y, w]) => (
        <text key={t} x={x} y={y} fontFamily={OPEN} fontSize={40} fill="#111" textLength={w} lengthAdjust="spacingAndGlyphs">{t}</text>
      ))}
    </svg>
  );
}
